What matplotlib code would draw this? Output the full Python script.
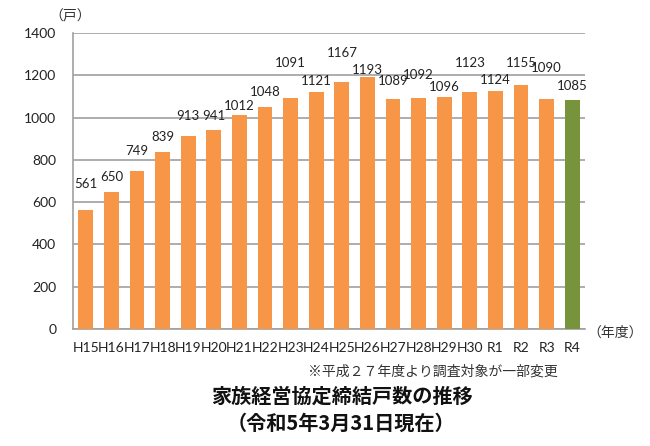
import matplotlib
matplotlib.use("Agg")
import matplotlib.pyplot as plt

plt.rcParams['font.family'] = ['Noto Sans CJK JP', 'DejaVu Sans']

# data
years = ['H15', 'H16', 'H17', 'H18', 'H19', 'H20', 'H21', 'H22', 'H23', 'H24',
         'H25', 'H26', 'H27', 'H28', 'H29', 'H30', 'R1', 'R2', 'R3', 'R4']
households = [561, 650, 749, 839, 913, 941, 1012, 1048, 1091, 1121,
              1167, 1193, 1089, 1092, 1096, 1123, 1124, 1155, 1090, 1085]

# where the value labels sit (staggered in the original)
label_pos = [686, 719, 842, 908, 1008, 1008, 1055, 1123, 1257, 1175,
             1304, 1225, 1173, 1201, 1145, 1258, 1178, 1258, 1235, 1150]

orange = '#F79646'
green = '#77933C'
colors = [orange] * (len(years) - 1) + [green]

fig = plt.figure(figsize=(6.5, 4.46), dpi=100)
ax = fig.add_axes([0.1123, 0.2623, 0.7877, 0.6637])

x = range(len(years))
ax.bar(x, households, width=0.58, color=colors, zorder=3)

for i, (v, p) in enumerate(zip(households, label_pos)):
    ax.text(i, p, str(v), ha='center', va='center', fontsize=9.5,
            family=['Lato', 'DejaVu Sans'], color='#222222', zorder=4)

ax.set_xlim(-0.5, len(years) - 0.5)
ax.set_ylim(0, 1400)
ax.set_yticks(range(0, 1401, 200))
ax.yaxis.grid(True, color='#a0a0a0', linewidth=1.2, zorder=0)
ax.set_axisbelow(True)

ax.set_xticks(list(x))
ax.set_xticklabels(years, family=['Lato', 'DejaVu Sans'], fontsize=10)
for lab in ax.get_yticklabels():
    lab.set_family(['Lato', 'DejaVu Sans'])
    lab.set_fontsize(10)
ax.tick_params(axis='both', length=0, colors='#222222')
ax.tick_params(axis='x', pad=9)
ax.tick_params(axis='y', pad=12)

for s in ['top', 'right']:
    ax.spines[s].set_visible(False)
ax.spines['left'].set_color('#a0a0a0')
ax.spines['bottom'].set_color('#a0a0a0')
ax.spines['left'].set_linewidth(1.2)
ax.spines['bottom'].set_linewidth(1.2)

fig.text(70 / 650, 1 - 16 / 446, '（戸）', ha='center', va='center', fontsize=10, color='#333333')
fig.text(615 / 650, 1 - 333 / 446, '（年度）', ha='center', va='center', fontsize=10, color='#333333')
fig.text(433 / 650, 1 - 372 / 446, '※平成２７年度より調査対象が一部変更', ha='center', va='center',
         fontsize=10, color='#333333')
fig.text(342 / 650, 1 - 396 / 446, '家族経営協定締結戸数の推移', ha='center', va='center',
         fontsize=14.5, fontweight='bold', color='#111111')
fig.text(341 / 650, 1 - 423 / 446, '（令和5年3月31日現在）', ha='center', va='center',
         fontsize=14.5, fontweight='bold', color='#111111')

fig.savefig('out.png', dpi=100)
